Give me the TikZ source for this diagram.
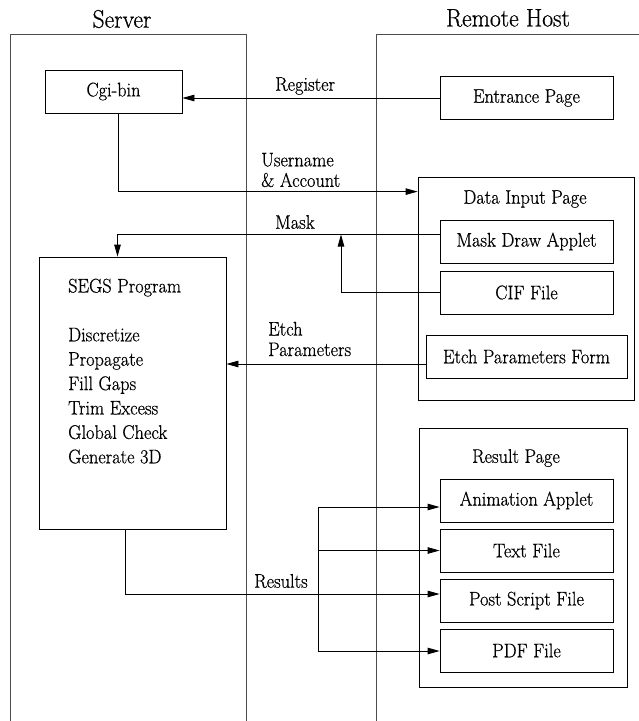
\documentclass[tikz,border=0pt]{standalone}
\usepackage{fontspec}
\setmainfont{Latin Modern Roman}[FakeStretch=0.93, FakeBold=0.6]
\usetikzlibrary{arrows.meta}
\newcommand\fsz{\fontsize{19.7pt}{20.5pt}\selectfont}
\newcommand\ttlsz{\fontsize{25.4pt}{28pt}\selectfont}
\begin{document}
\begin{tikzpicture}[x=1pt,y=-1pt,
  col/.style={draw=black!70, line width=0.9pt},
  box/.style={draw, line width=0.8pt, minimum width=173pt, minimum height=43pt, inner sep=0pt, font=\fsz},
  frame/.style={draw, line width=0.8pt, inner sep=0pt},
  lbl/.style={inner sep=0pt, font=\fsz},
  ttl/.style={inner sep=0pt, font=\ttlsz},
  line/.style={draw, line width=0.8pt},
  arr/.style={draw, line width=0.8pt, -{Triangle[length=12pt,width=6.5pt]}}]
\useasboundingbox (0,0) rectangle (639,721);
% columns
\draw[col] (10,721) -- (10,34) -- (246,34) -- (246,721);
\draw[col] (376,721) -- (376,34) -- (639,34);
\node[ttl] (server) at (122,19) {Server};
\node[ttl] (remote) at (508,18) {Remote Host};
% server side
\node[box, minimum width=137pt] (cgi) at (113.5,91.5) {Cgi-bin};
\node[frame, minimum width=187pt, minimum height=272pt] (segs) at (132.5,393) {};
\node[lbl, anchor=north west, align=left, font=\fontsize{19.7pt}{24.4pt}\selectfont] (segstxt) at (68,278.5)
  {SEGS Program\\[24.4pt]Discretize\\Propagate\\Fill Gaps\\Trim Excess\\Global Check\\Generate 3D};
% remote side
\node[box] (entr) at (526.5,98) {Entrance Page};
\node[frame, minimum width=216pt, minimum height=223pt] (dip) at (526,288.5) {};
\node[lbl] (diplbl) at (525,199) {Data Input Page};
\node[box] (mask) at (526.5,241.5) {Mask Draw Applet};
\node[box] (cif) at (526.5,292.5) {CIF File};
\node[box, minimum width=201pt] (etch) at (526.5,356.5) {Etch Parameters Form};
\node[frame, minimum width=208pt, minimum height=259pt] (res) at (523,557.5) {};
\node[lbl] (reslbl) at (516,458) {Result Page};
\node[box] (anim) at (526.5,500.5) {Animation Applet};
\node[box] (txt) at (526.5,550.5) {Text File};
\node[box] (ps) at (526.5,600.5) {Post Script File};
\node[box] (pdf) at (526.5,650.5) {PDF File};
% connectors
\draw[arr] (entr.west) -- (entr.west -| cgi.east);
\draw[arr] ([xshift=4.5pt]cgi.south) |- ([yshift=-15pt]dip.north west);
\draw[arr] ([yshift=7.5pt]mask.west) -| ([xshift=-15pt]segs.north);
\coordinate (mj) at (341,234.5);
\draw[arr] (cif.west) -| (mj);
\draw[arr] ([yshift=-7.5pt]etch.west) coordinate (e1) -- (e1 -| segs.east);
\draw[arr] ([xshift=-7.5pt]segs.south) |- ([yshift=6.5pt]ps.west);
\coordinate (bustop) at (318,507);
\coordinate (busbot) at (318,651);
\draw[line] (bustop) -- (busbot);
\draw[arr] (bustop) -- (bustop -| anim.west);
\draw[arr] (bustop |- txt.west) -- (txt.west);
\draw[arr] (busbot) -- (busbot -| pdf.west);
% labels
\node[lbl, anchor=west] (lreg) at (275,86) {Register};
\node[lbl, anchor=west, align=left] (luser) at (261,170) {Username\\\& Account};
\node[lbl, anchor=west] (lmask) at (275,222) {Mask};
\node[lbl, anchor=west, align=left] (letch) at (268,339) {Etch\\Parameters};
\node[lbl, anchor=west] (lres) at (254,581) {Results};
\end{tikzpicture}
\end{document}
